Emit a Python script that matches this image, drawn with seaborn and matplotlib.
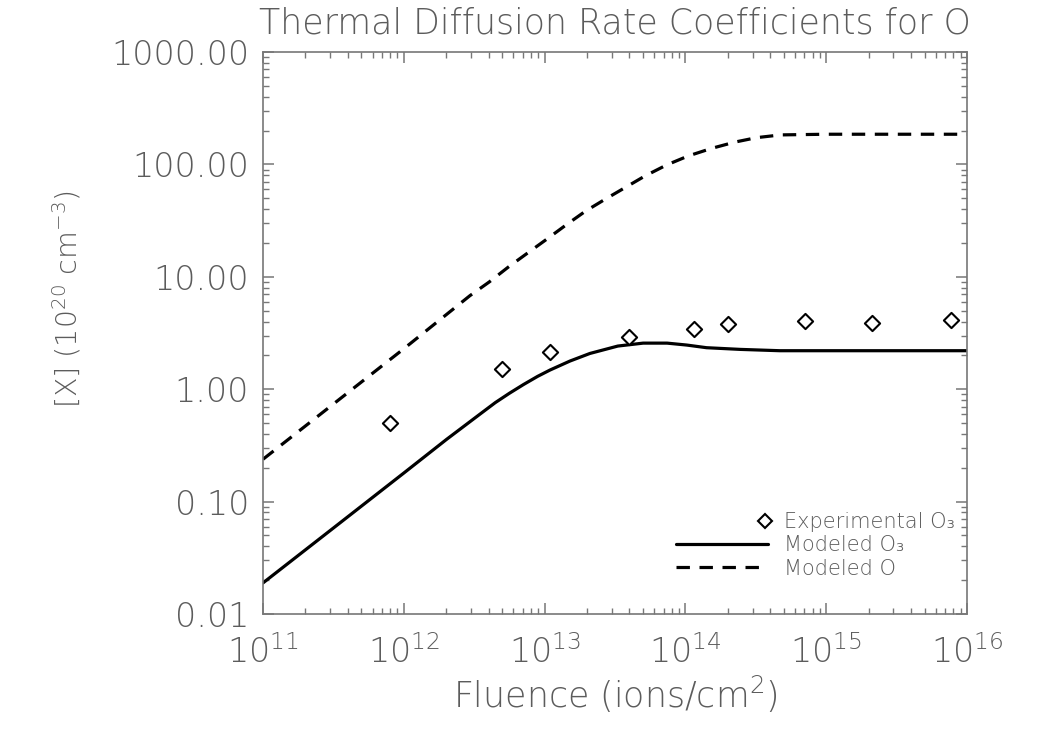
import numpy as np
import pandas as pd
import matplotlib
matplotlib.use("Agg")
import matplotlib.pyplot as plt
import seaborn as sns
from matplotlib.lines import Line2D
from matplotlib.legend_handler import HandlerBase
from matplotlib.ticker import LogLocator, FixedLocator, FixedFormatter, NullFormatter

# ---------------- data ----------------
model_o3_fluence = [1e11, 10**11.5, 1e12, 10**12.304, 10**12.541, 10**12.65, 10**12.75,
                    10**12.85, 10**12.95, 10**13.038, 10**13.18, 10**13.322, 10**13.52,
                    10**13.70, 10**13.87, 10**14.01, 10**14.15, 10**14.39, 10**14.67,
                    1e15, 1e16]
model_o3_value = [0.0189, 0.0582, 0.1795, 0.358, 0.60, 0.76, 0.92,
                  1.10, 1.30, 1.48, 1.78, 2.08, 2.42,
                  2.57, 2.57, 2.47, 2.34, 2.26, 2.20,
                  2.20, 2.20]

model_o_fluence = [1e11, 1e12, 10**12.470, 10**12.607, 10**12.742, 10**12.877, 10**13.015,
                   10**13.152, 10**13.292, 10**13.429, 10**13.571, 10**13.713, 10**13.867,
                   10**14.021, 10**14.187, 10**14.352, 10**14.506, 10**14.677, 1e15, 1e16]
model_o_value = [0.238, 2.29, 6.8, 9.0, 12.2, 16.2, 21.6,
                 28.9, 38.5, 48.9, 62.1, 78.9, 98.9,
                 119, 139, 158, 173, 183, 185.5, 185.5]

exp_fluence = [8.0e11, 5.0e12, 1.1e13, 4.0e13, 1.15e14, 2.0e14, 7.1e14, 2.1e15, 7.7e15]
exp_value = [0.50, 1.50, 2.15, 2.90, 3.41, 3.80, 4.07, 3.88, 4.13]

x_ticks = [1e11, 1e12, 1e13, 1e14, 1e15, 1e16]
x_tick_labels = ["$10^{11}$", "$10^{12}$", "$10^{13}$", "$10^{14}$", "$10^{15}$", "$10^{16}$"]
y_ticks = [0.01, 0.1, 1, 10, 100, 1000]
y_tick_labels = ["0.01", "0.10", "1.00", "10.00", "100.00", "1000.00"]

title = "Thermal Diffusion Rate Coefficients for O"
x_label = "Fluence (ions/cm$^{2}$)"
y_label = "[X] (10$^{20}$ cm$^{-3}$)"
legend_labels = ["Experimental O₃", "Modeled O₃", "Modeled O"]

# ---------------- style ----------------
sns.set_style("ticks")
TXT = "#5c5c5c"
AX = "#777777"
plt.rcParams["font.family"] = ["DejaVu Sans", "Noto Sans"]
plt.rcParams["font.weight"] = "light"
plt.rcParams["mathtext.fontset"] = "custom"
plt.rcParams["mathtext.rm"] = "DejaVu Sans:light"
plt.rcParams["mathtext.it"] = "DejaVu Sans:light"
plt.rcParams["mathtext.bf"] = "DejaVu Sans:light"
plt.rcParams["mathtext.sf"] = "DejaVu Sans:light"
plt.rcParams["mathtext.default"] = "rm"
plt.rcParams["mathtext.fallback"] = "stixsans"

fig = plt.figure(figsize=(10.5, 7.5), dpi=100)
ax = fig.add_axes([263 / 1050, 1 - 614 / 750, 704 / 1050, 562 / 750])

df_o3 = pd.DataFrame({"fluence": model_o3_fluence, "value": model_o3_value})
df_o = pd.DataFrame({"fluence": model_o_fluence, "value": model_o_value})
df_exp = pd.DataFrame({"fluence": exp_fluence, "value": exp_value})

sns.lineplot(data=df_o3, x="fluence", y="value", ax=ax, color="black", lw=2.3,
             estimator=None, sort=False)
sns.lineplot(data=df_o, x="fluence", y="value", ax=ax, color="black", lw=2.3,
             linestyle=(0, (4.2, 3.0)), estimator=None, sort=False)
ax.set_xscale("log")
ax.set_yscale("log")
sns.scatterplot(data=df_exp, x="fluence", y="value", ax=ax, marker="D", s=60,
                facecolor="white", edgecolor="black", linewidth=1.5, zorder=5)

ax.set_xlim(1e11, 1e16)
ax.set_ylim(0.01, 1000)

ax.xaxis.set_major_locator(FixedLocator(x_ticks))
ax.xaxis.set_major_formatter(FixedFormatter(x_tick_labels))
ax.yaxis.set_major_locator(FixedLocator(y_ticks))
ax.yaxis.set_major_formatter(FixedFormatter(y_tick_labels))
ax.xaxis.set_minor_locator(LogLocator(base=10, subs=np.arange(2, 10), numticks=20))
ax.yaxis.set_minor_locator(LogLocator(base=10, subs=np.arange(2, 10), numticks=20))
ax.xaxis.set_minor_formatter(NullFormatter())
ax.yaxis.set_minor_formatter(NullFormatter())

ax.tick_params(which="both", direction="in", top=True, right=True, color=AX,
               labelcolor=TXT, labelsize=24)
ax.tick_params(which="major", length=8, width=1.1)
ax.tick_params(which="minor", length=4.3, width=1.0)
ax.tick_params(axis="x", which="major", pad=15)
ax.tick_params(axis="y", which="major", pad=10)
for s in ax.spines.values():
    s.set_color(AX)
    s.set_linewidth(1.2)

ax.set_title(title, fontsize=25, color=TXT, pad=13, fontweight="light")
ax.set_xlabel(x_label, fontsize=25, color=TXT, labelpad=3, fontweight="light")
ax.set_ylabel(y_label, fontsize=20.5, color=TXT, fontweight="light")
ax.yaxis.set_label_coords(-0.255, 0.56)


class RightMarkerHandler(HandlerBase):
    def create_artists(self, legend, orig_handle, xdescent, ydescent, width, height,
                       fontsize, trans):
        m = Line2D([width - xdescent - 2], [height / 2 - ydescent], marker="D",
                   markersize=6.8, markerfacecolor="white", markeredgecolor="black",
                   markeredgewidth=1.5, linestyle="none", transform=trans)
        return [m]


exp_handle = Line2D([], [], marker="D", linestyle="none")
line_handles = [ax.lines[0], ax.lines[1]]
leg = ax.legend([exp_handle] + line_handles, legend_labels,
                handler_map={exp_handle: RightMarkerHandler()},
                loc="upper left", bbox_to_anchor=(0.5866, 0.181), frameon=False,
                fontsize=15, handlelength=4.4, handletextpad=0.8, labelspacing=0.15,
                borderpad=0, borderaxespad=0)
for t in leg.get_texts():
    t.set_color(TXT)
    t.set_fontweight("light")

fig.savefig("out.png", dpi=100)
